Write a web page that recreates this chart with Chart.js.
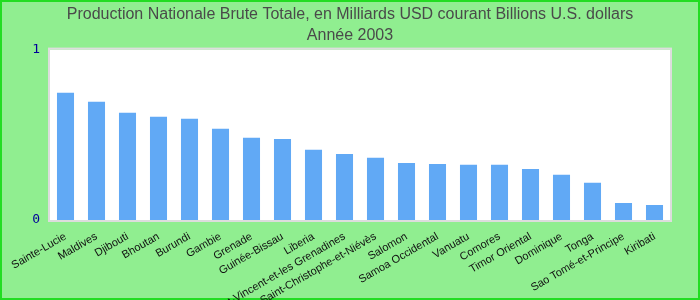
<!DOCTYPE html>
<html>
<head>
<meta charset="utf-8">
<script src="https://cdn.jsdelivr.net/npm/chart.js@4"></script>
<style>
  html, body { margin: 0; padding: 0; background: #90ee90; }
  #wrap { width: 700px; height: 300px; }
</style>
</head>
<body>
<div id="wrap"><canvas id="chart" width="700" height="300"></canvas></div>
<script>
// pays, ordre décroissant
const pays = ['Sainte-Lucie', 'Maldives', 'Djibouti', 'Bhoutan', 'Burundi', 'Gambie', 'Grenade',
    'Guinée-Bissau', 'Liberia', 'Saint-Vincent-et-les Grenadines', 'Saint-Christophe-et-Niévès',
    'Salomon', 'Samoa Occidental', 'Vanuatu', 'Comores', 'Timor Oriental', 'Dominique', 'Tonga',
    'Sao Tomé-et-Principe', 'Kiribati'];
// milliards USD courants, 2003
const pnb = [0.747, 0.694, 0.629, 0.606, 0.594, 0.535, 0.482, 0.476, 0.412, 0.388,
    0.365, 0.335, 0.329, 0.324, 0.324, 0.300, 0.265, 0.218, 0.100, 0.088];
const yTicks = [0, 1];
const titre = ['Production Nationale Brute Totale, en Milliards USD courant Billions U.S. dollars', 'Année 2003'];

// fond vert, zone blanche et bordures
const fondPlugin = {
    id: 'fond',
    beforeDraw(chart) {
        const { ctx, chartArea: a, width, height } = chart;
        ctx.save();
        ctx.fillStyle = '#90ee90';
        ctx.fillRect(0, 0, width, height);
        ctx.fillStyle = '#ffffff';
        ctx.fillRect(a.left, a.top, a.right - a.left, a.bottom - a.top);
        ctx.strokeStyle = '#dddddd';
        ctx.lineWidth = 2;
        ctx.strokeRect(a.left - 1, a.top - 1, a.right - a.left + 2, a.bottom - a.top + 2);
        ctx.strokeStyle = '#22dd22';
        ctx.lineWidth = 2;
        ctx.strokeRect(1, 1, width - 2, height - 2);
        ctx.restore();
    }
};

new Chart(document.getElementById('chart'), {
    type: 'bar',
    data: {
        labels: pays,
        datasets: [{
            data: pnb,
            backgroundColor: '#61a9f5',
            categoryPercentage: 1,
            barPercentage: 0.55
        }]
    },
    options: {
        responsive: false,
        animation: false,
        layout: { padding: 0 },
        plugins: {
            legend: { display: false },
            tooltip: { enabled: false },
            title: {
                display: true,
                text: titre,
                color: '#4a4a4a',
                font: { family: "'Liberation Sans', Arial", size: 16, weight: 'normal', lineHeight: 1.3 },
                padding: { top: 4, bottom: 4 }
            }
        },
        scales: {
            x: {
                grid: { display: false },
                border: { display: false },
                ticks: {
                    color: '#111',
                    font: { family: "'Liberation Sans', Arial", size: 11 },
                    minRotation: 30,
                    maxRotation: 30,
                    autoSkip: false,
                    padding: 2
                },
                afterFit(scale) { scale.height = 80; }
            },
            y: {
                min: 0,
                max: 1,
                afterBuildTicks(scale) { scale.ticks = yTicks.map(v => ({ value: v })); },
                grid: { display: false, drawTicks: false },
                border: { display: false },
                ticks: {
                    color: '#000099',
                    font: { family: "'DejaVu Sans Mono', monospace", size: 13 },
                    padding: 10
                },
                afterFit(scale) { scale.width = 50; }
            },
            // marge droite vide
            yDroite: {
                position: 'right',
                min: 0,
                max: 1,
                grid: { display: false, drawTicks: false },
                border: { display: false },
                ticks: { display: false },
                afterFit(scale) { scale.width = 30; }
            }
        }
    },
    plugins: [fondPlugin]
});
</script>
</body>
</html>
